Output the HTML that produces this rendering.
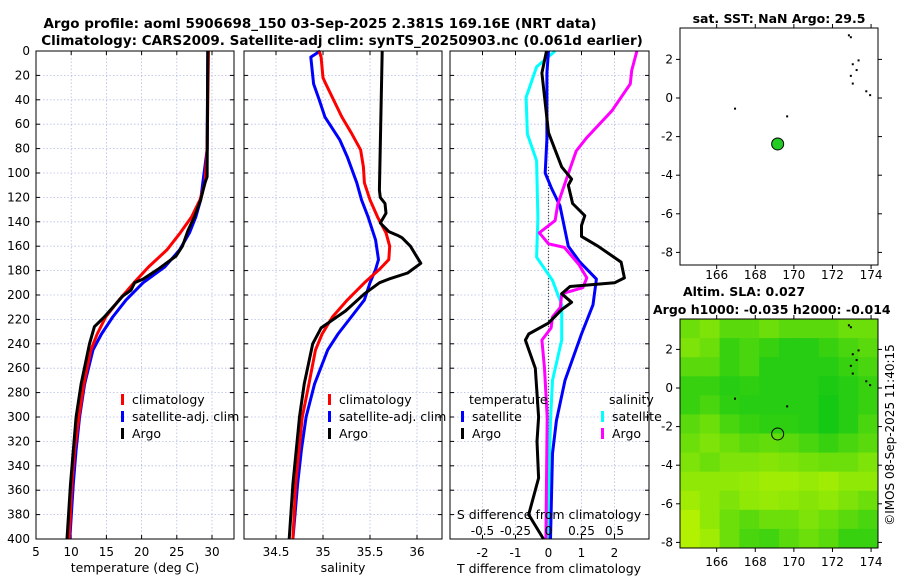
<!DOCTYPE html>
<html><head><meta charset="utf-8"><style>
body{margin:0;background:#fff}
svg{font-family:"DejaVu Sans","Liberation Sans",sans-serif}
</style></head><body>
<svg id="c" width="900" height="580" xmlns="http://www.w3.org/2000/svg">
<rect width="900" height="580" fill="#fff"/>
<text x="320" y="28" text-anchor="middle" font-size="13.5" font-weight="bold">Argo profile: aoml 5906698_150 03-Sep-2025 2.381S 169.16E (NRT data)</text>
<text x="342" y="45" text-anchor="middle" font-size="13.5" font-weight="bold">Climatology: CARS2009. Satellite-adj clim: synTS_20250903.nc (0.061d earlier)</text>
<text x="779" y="23" text-anchor="middle" font-size="12.5" font-weight="bold">sat. SST: NaN Argo: 29.5</text>
<text x="744" y="296" text-anchor="middle" font-size="12.5" font-weight="bold">Altim. SLA: 0.027</text>
<text x="653" y="314" font-size="12.5" font-weight="bold" text-anchor="start">Argo h1000: -0.035 h2000: -0.014</text>
<text transform="translate(894,435) rotate(-90)" text-anchor="middle" font-size="12">©IMOS 08-Sep-2025 11:40:15</text>
<g id="plots"></g>
</svg>
<script>
// depth
const depthTicks=[0,20,40,60,80,100,120,140,160,180,200,220,240,260,280,300,320,340,360,380,400];
// temperature panel
const tTicks=[5,10,15,20,25,30];
const tClimD=[0,81,108,122,136,149,163,177,190,204,218,232,245,273,300,327,355,400];
const tClimV=[29.5,29.3,29.0,28.3,27.1,25.5,23.6,21.0,18.9,16.8,14.9,13.7,12.8,11.8,11.1,10.5,10.1,9.7];
const tSatD=[0,81,108,122,136,149,163,177,190,204,218,232,245,273,300,327,355,400];
const tSatV=[29.4,29.3,28.7,28.4,27.7,26.8,25.4,23.3,20.2,17.8,15.9,14.3,13.1,11.9,11.2,10.7,10.3,9.8];
const tArgoD=[0,103,108,122,136,147,160,168,179,187,190,196,201,218,226,240,273,300,355,400];
const tArgoV=[29.4,29.3,29.0,28.4,27.5,26.6,25.8,24.9,22.3,20.2,19.0,18.5,17.3,14.7,13.3,12.6,11.4,10.7,9.9,9.4];
// salinity panel
const sTicks=[34.5,35,35.5,36];
const sClimD=[0,5,22,27,54,67,81,95,108,122,136,149,160,171,179,190,204,218,232,245,273,300,355,400];
const sClimV=[34.96,34.98,35.0,35.03,35.2,35.3,35.4,35.43,35.44,35.5,35.58,35.67,35.71,35.7,35.6,35.44,35.26,35.1,34.99,34.92,34.85,34.78,34.71,34.68];
const sSatD=[0,5,27,40,54,73,87,108,122,136,155,171,179,190,204,218,232,245,273,300,327,355,400];
const sSatV=[34.97,34.87,34.9,34.96,35.02,35.18,35.26,35.36,35.41,35.48,35.56,35.59,35.56,35.5,35.44,35.3,35.16,35.05,34.91,34.82,34.77,34.73,34.68];
const sArgoD=[0,114,120,125,133,141,148,151,153,160,174,182,187,190,199,213,227,240,273,300,355,400];
const sArgoV=[35.63,35.6,35.61,35.66,35.67,35.61,35.7,35.79,35.84,35.93,36.04,35.9,35.7,35.6,35.44,35.24,34.98,34.89,34.8,34.75,34.68,34.64];
// difference panel
const dTicks=[-2,-1,0,1,2];
const dsTickLabels=["-0.5","-0.25","0","0.25","0.5"];
const dTArgoD=[0,18,67,95,105,110,125,135,143,152,160,173,186,190,193,199,206,212,223,232,237,260,300,320,350,380,400];
const dTArgoV=[-0.06,-0.2,0.0,0.4,0.7,0.6,0.73,1.1,1.0,1.0,1.5,2.2,2.3,2.0,0.65,0.4,0.7,0.4,0.0,-0.6,-0.7,-0.4,-0.3,-0.35,-0.3,-0.6,-0.15];
const dTSatD=[0,18,72,100,113,127,160,173,187,208,232,270,303,330,400];
const dTSatV=[0.0,-0.05,-0.05,-0.1,0.1,0.35,0.6,0.95,1.45,1.35,1.0,0.5,0.24,0.12,0.06];
const dSSatD=[0,13,38,68,90,137,169,188,208,237,270,303,400];
const dSSatV=[0.05,-0.09,-0.17,-0.16,-0.09,-0.08,-0.09,0.03,0.1,0.1,0.03,0.015,-0.01];
const dSArgoD=[0,16,27,49,71,82,110,126,139,149,158,161,175,186,194,199,210,218,227,237,260,300,400];
const dSArgoV=[0.67,0.63,0.62,0.48,0.29,0.21,0.12,0.07,0.05,-0.07,0.0,0.12,0.23,0.29,0.26,0.1,0.09,0.03,0.02,-0.05,-0.03,-0.01,-0.02];
// maps
const lonTicks=[166,168,170,172,174];
const latTicks=[2,0,-2,-4,-6,-8];
const argoLon=169.16, argoLat=-2.381;
const slaGrid=[
[0.5,0.4,0.6,0.6,0.5,0.6,0.6,0.6,0.5,0.5],
[0.4,0.5,0.8,0.7,0.8,0.9,0.9,0.8,0.7,0.6],
[0.6,0.6,0.8,0.7,0.9,0.9,0.9,0.9,0.8,0.7],
[0.8,0.8,0.9,0.85,0.9,0.9,0.9,0.95,0.9,0.8],
[0.8,0.7,0.85,0.9,0.9,0.9,0.9,1.0,0.9,0.8],
[0.6,0.5,0.7,0.8,0.85,0.85,0.9,1.0,0.9,0.7],
[0.5,0.4,0.5,0.6,0.55,0.6,0.7,0.8,0.7,0.6],
[0.4,0.5,0.4,0.4,0.35,0.4,0.45,0.5,0.5,0.4],
[0.3,0.3,0.3,0.25,0.2,0.2,0.25,0.2,0.3,0.3],
[0.2,0.3,0.4,0.3,0.25,0.3,0.35,0.3,0.4,0.5],
[0.1,0.3,0.5,0.6,0.5,0.5,0.4,0.5,0.6,0.7],
[0.1,0.2,0.5,0.7,0.75,0.6,0.5,0.6,0.8,0.8]];
const coastLon=[172.8,172.9,173.0,173.2,172.9,173.0,173.3,173.7,173.9,169.6,166.9];
const coastLat=[3.3,3.2,1.8,1.5,1.2,0.8,2.0,0.4,0.2,-0.9,-0.5];

const NS="http://www.w3.org/2000/svg";
const G=document.getElementById('plots');
function mk(tag,attrs,parent){const e=document.createElementNS(NS,tag);for(const k in attrs)e.setAttribute(k,attrs[k]);(parent||G).appendChild(e);return e;}
function txt(x,y,s,anchor,size,parent){const e=mk('text',{x:x,y:y,'text-anchor':anchor||'middle','font-size':size||12},parent);e.textContent=s;return e;}
const Y0=51,Y1=539;
const yD=d=>Y0+d/400*(Y1-Y0);
const xT=v=>36+(v-5)*7.04;
const xS=v=>323+(v-35)*94;
const xDT=v=>548.5+v*33;
const xDS=v=>548.5+v*132;

function panel(name,x0,x1,vt,vx){
  const g=mk('g',{});
  
  
  depthTicks.forEach(d=>{mk('line',{x1:x0,x2:x1,y1:yD(d),y2:yD(d),stroke:'#b4bce6','stroke-width':0.8,'stroke-dasharray':'1.5,2'},g);
    mk('line',{x1:x0,x2:x0+4,y1:yD(d),y2:yD(d),stroke:'#000'},g);mk('line',{x1:x1-4,x2:x1,y1:yD(d),y2:yD(d),stroke:'#000'},g);});
  vt.forEach(v=>{const x=vx(v);mk('line',{x1:x,x2:x,y1:Y0,y2:Y1,stroke:'#b4bce6','stroke-width':0.8,'stroke-dasharray':'1.5,2'},g);
    mk('line',{x1:x,x2:x,y1:Y1-4,y2:Y1,stroke:'#000'},g);mk('line',{x1:x,x2:x,y1:Y0,y2:Y0+4,stroke:'#000'},g);});
  return g;
}
function frame(g,x0,x1){mk('rect',{x:x0,y:Y0,width:x1-x0,height:Y1-Y0,fill:'none',stroke:'#000','stroke-width':1},g);}
function line(g,D,V,fx,color,name,w){
  const p=D.map((d,i)=>(i?'L':'M')+fx(V[i]).toFixed(1)+','+yD(d).toFixed(1)).join('');
  const e=mk('path',{d:p,fill:'none',stroke:color,'stroke-width':w||3,'stroke-linejoin':'round'},g);
  
  
}
function legend(g,x,y,color,label){
  mk('rect',{x:x,y:y-10,width:3,height:11,fill:color},g);
  const t=txt(x+11,y,label,'start',12.5,g);
  
  
}
// Panel 1
let g1=panel('temperature-panel',36,234,tTicks,xT);
line(g1,tSatD,tSatV,xT,'#0000ff','satellite-clim-temp-line');
line(g1,tClimD,tClimV,xT,'#ff0000','climatology-temp-line');
line(g1,tArgoD,tArgoV,xT,'#000','argo-temp-line');
frame(g1,36,234);
depthTicks.forEach(d=>txt(30,yD(d)+4,String(d),'end',12,g1));
tTicks.forEach(v=>txt(xT(v),556,String(v),'middle',12,g1));
txt(135,572,'temperature (deg C)','middle',12.5,g1);
legend(g1,121,404,'#ff0000','climatology');legend(g1,121,421,'#0000ff','satellite-adj. clim');legend(g1,121,438,'#000','Argo');
// Panel 2
let g2=panel('salinity-panel',244,442,sTicks,xS);
line(g2,sSatD,sSatV,xS,'#0000ff','satellite-clim-salinity-line');
line(g2,sClimD,sClimV,xS,'#ff0000','climatology-salinity-line');
line(g2,sArgoD,sArgoV,xS,'#000','argo-salinity-line');
frame(g2,244,442);
sTicks.forEach(v=>txt(xS(v),556,String(v),'middle',12,g2));
txt(343,572,'salinity','middle',12.5,g2);
legend(g2,328,404,'#ff0000','climatology');legend(g2,328,421,'#0000ff','satellite-adj. clim');legend(g2,328,438,'#000','Argo');
// Panel 3
let g3=panel('difference-panel',450,649,dTicks,xDT);
mk('line',{x1:548.5,x2:548.5,y1:yD(95),y2:Y1,stroke:'#333','stroke-width':1.2,'stroke-dasharray':'1,2'},g3);
line(g3,dSSatD,dSSatV,xDS,'#00ffff','satellite-salinity-diff-line');
line(g3,dTSatD,dTSatV,xDT,'#0000ff','satellite-temp-diff-line');
line(g3,dSArgoD,dSArgoV,xDS,'#ff00ff','argo-salinity-diff-line');
line(g3,dTArgoD,dTArgoV,xDT,'#000','argo-temp-diff-line');
frame(g3,450,649);
dTicks.forEach(v=>txt(xDT(v),557,String(v),'middle',12,g3));
dsTickLabels.forEach((s,i)=>txt(xDT(dTicks[i]),535,s,'middle',12,g3));
txt(549,519,'S difference from climatology','middle',12.5,g3);
txt(549,573,'T difference from climatology','middle',12.5,g3);
txt(469,404,'temperature','start',12.5,g3);txt(609,404,'salinity','start',12.5,g3);
legend(g3,461,421,'#0000ff','satellite');legend(g3,461,438,'#000','Argo');
legend(g3,601,421,'#00ffff','satellite');legend(g3,601,438,'#ff00ff','Argo');
// Maps
const MX0=680,MX1=878,SC=19.3;
const xL=lon=>MX0+(lon-164.1)*SC;
function map(name,yZero,top,bot,labY,heat){
  const g=mk('g',{});
  
  
  const yL=lat=>yZero-lat*SC;
  if(heat){
    const rows=slaGrid.length,cols=slaGrid[0].length;
    const latTop=(yZero-top)/SC, latBot=(yZero-bot)/SC, lonR=164.1+(MX1-MX0)/SC;
    slaGrid.forEach((row,r)=>row.forEach((v,c)=>{
      const la0=latTop-(latTop-latBot)*r/rows, la1=latTop-(latTop-latBot)*(r+1)/rows;
      const lo0=164.1+(lonR-164.1)*c/cols, lo1=164.1+(lonR-164.1)*(c+1)/cols;
      const col=`rgb(${Math.round(195-175*v)},${Math.round(245-45*v)},${Math.round(20*v)})`;
      const cell=mk('rect',{x:xL(lo0),y:yL(la0),width:xL(lo1)-xL(lo0)+0.5,height:yL(la1)-yL(la0)+0.5,fill:col},g);
      
      
    }));
  }
  coastLon.forEach((lo,i)=>mk('rect',{x:xL(lo),y:yL(coastLat[i]),width:2,height:2,fill:'#000'},g));
  mk('rect',{x:MX0,y:top,width:MX1-MX0,height:bot-top,fill:'none',stroke:'#000'},g);
  lonTicks.forEach(l=>{const x=xL(l);mk('line',{x1:x,x2:x,y1:bot,y2:bot+4,stroke:'#000'},g);mk('line',{x1:x,x2:x,y1:top,y2:top-4,stroke:'#000'},g);txt(x,labY,String(l),'middle',12,g);});
  latTicks.forEach(l=>{const y=yL(l);mk('line',{x1:MX0-4,x2:MX0,y1:y,y2:y,stroke:'#000'},g);mk('line',{x1:MX1,x2:MX1+4,y1:y,y2:y,stroke:'#000'},g);txt(MX0-7,y+4,String(l),'end',12,g);});
  const dot=mk('ellipse',{cx:xL(argoLon),cy:yL(argoLat),rx:6,ry:6,fill:heat?'none':'#22cc22',stroke:'#000','stroke-width':1},g);
  
  
}
map('sst-map',98,28,265,279,false);
map('sla-map',388,319,548,566,true);
</script>
</body></html>
